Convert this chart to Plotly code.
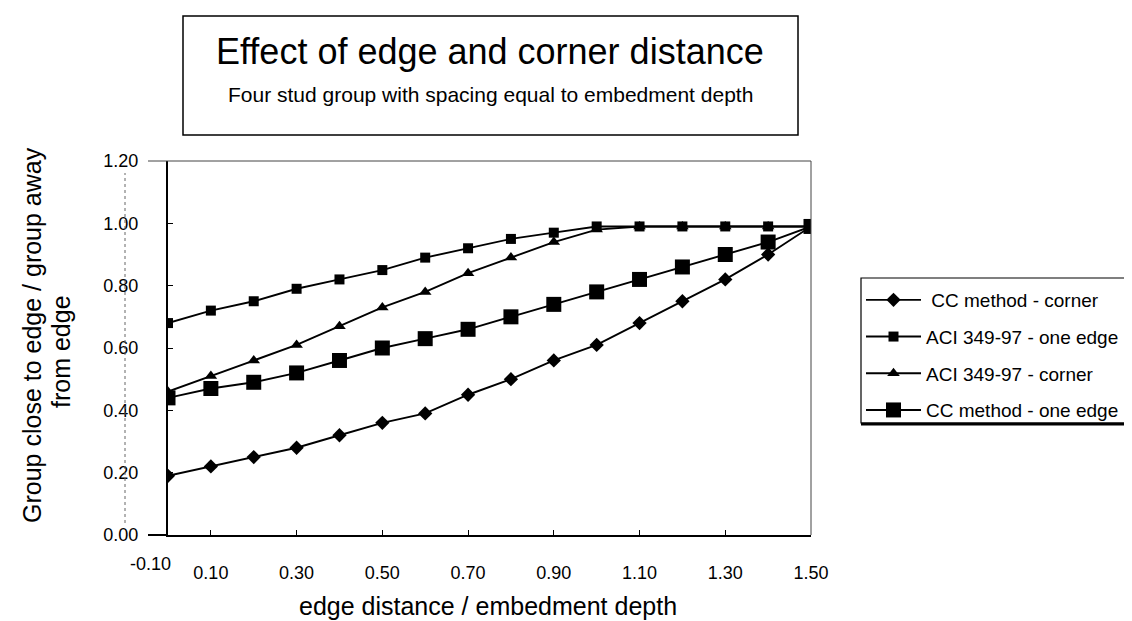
import plotly.graph_objects as go

# ---- data ----
x_vals = [0.0, 0.1, 0.2, 0.3, 0.4, 0.5, 0.6, 0.7, 0.8, 0.9, 1.0, 1.1, 1.2, 1.3, 1.4, 1.5]
cc_corner = [0.19, 0.22, 0.25, 0.28, 0.32, 0.36, 0.39, 0.45, 0.50, 0.56, 0.61, 0.68, 0.75, 0.82, 0.90, 0.99]
aci_one_edge = [0.68, 0.72, 0.75, 0.79, 0.82, 0.85, 0.89, 0.92, 0.95, 0.97, 0.99, 0.99, 0.99, 0.99, 0.99, 0.99]
aci_corner = [0.46, 0.51, 0.56, 0.61, 0.67, 0.73, 0.78, 0.84, 0.89, 0.94, 0.98, 0.99, 0.99, 0.99, 0.99, 0.99]
cc_one_edge = [0.44, 0.47, 0.49, 0.52, 0.56, 0.60, 0.63, 0.66, 0.70, 0.74, 0.78, 0.82, 0.86, 0.90, 0.94, 0.99]

x_tick_vals = [0.1, 0.3, 0.5, 0.7, 0.9, 1.1, 1.3, 1.5]
x_tick_text = ["0.10", "0.30", "0.50", "0.70", "0.90", "1.10", "1.30", "1.50"]
y_tick_vals = [0.0, 0.2, 0.4, 0.6, 0.8, 1.0, 1.2]
y_tick_text = ["0.00", "0.20", "0.40", "0.60", "0.80", "1.00", "1.20"]

series_names = [" CC method - corner", "ACI 349-97 - one edge", "ACI 349-97 - corner", "CC method - one edge"]

title_text = "Effect of edge and corner distance"
subtitle_text = "Four stud group with spacing equal to embedment depth"
x_title = "edge distance / embedment depth"
y_title_line1 = "Group close to edge / group away"
y_title_line2 = "from edge"
x_extra_label = "-0.10"

FONT = "Liberation Sans, Arial, Helvetica, sans-serif"

# ---- layout geometry (pixels) ----
W, H = 1132, 621
L, R, T, B = 160, 803, 153, 527


def px(xp):
    return (xp - L) / (R - L)


def py(yp):
    return (B - yp) / (B - T)


fig = go.Figure()

styles = [
    dict(symbol="diamond", size=11),
    dict(symbol="square", size=10),
    dict(symbol="triangle-up", size=11),
    dict(symbol="square", size=15),
]
series = [cc_corner, aci_one_edge, aci_corner, cc_one_edge]
for i, (name, ys, st) in enumerate(zip(series_names, series, styles)):
    fig.add_trace(go.Scatter(
        x=x_vals, y=ys, name=name, mode="lines+markers",
        line=dict(color="black", width=1.9),
        marker=dict(color="black", symbol=st["symbol"], size=st["size"], line=dict(width=0)),
        legendgroup=f"g{i}",
    ))

shapes = []
# title box
shapes.append(dict(type="rect", xref="paper", yref="paper",
                   x0=px(175), x1=px(790), y0=py(127), y1=py(8),
                   line=dict(color="black", width=1.5)))
# plot top and right border (thin)
shapes.append(dict(type="line", xref="paper", yref="paper", x0=px(140), x1=1, y0=1, y1=1,
                   line=dict(color="#444", width=1)))
shapes.append(dict(type="line", xref="paper", yref="paper", x0=1, x1=1, y0=0, y1=1,
                   line=dict(color="#444", width=1)))
# x axis extension to left
shapes.append(dict(type="line", xref="paper", yref="paper", x0=px(140), x1=0, y0=0, y1=0,
                   line=dict(color="black", width=2)))
# faint vertical dotted line between y tick labels (as in the scanned original)
shapes.append(dict(type="line", xref="paper", yref="paper", x0=px(117), x1=px(117), y0=py(515), y1=py(165),
                   line=dict(color="#666", width=1, dash="dot")))
# legend box
shapes.append(dict(type="rect", xref="paper", yref="paper",
                   x0=px(853), x1=px(1140), y0=py(415), y1=py(270),
                   line=dict(color="black", width=1.2)))
shapes.append(dict(type="line", xref="paper", yref="paper",
                   x0=px(853), x1=px(1140), y0=py(416), y1=py(416),
                   line=dict(color="black", width=3)))

annotations = [
    dict(text=title_text, xref="paper", yref="paper", x=px(482), y=py(44),
         showarrow=False, font=dict(family=FONT, size=36, color="black"),
         xanchor="center", yanchor="middle"),
    dict(text=subtitle_text, xref="paper", yref="paper", x=px(482), y=py(87),
         showarrow=False, font=dict(family=FONT, size=21, color="black"),
         xanchor="center", yanchor="middle"),
    dict(text=y_title_line1, xref="paper", yref="paper", x=px(24), y=py(327),
         showarrow=False, textangle=-90, font=dict(family=FONT, size=25, color="black"),
         xanchor="center", yanchor="middle"),
    dict(text=y_title_line2, xref="paper", yref="paper", x=px(53), y=py(343),
         showarrow=False, textangle=-90, font=dict(family=FONT, size=25, color="black"),
         xanchor="center", yanchor="middle"),
    dict(text=x_title, xref="paper", yref="paper", x=px(480), y=py(598),
         showarrow=False, font=dict(family=FONT, size=25, color="black"),
         xanchor="center", yanchor="middle"),
    dict(text=x_extra_label, xref="paper", yref="paper", x=px(142), y=py(556),
         showarrow=False, font=dict(family=FONT, size=18, color="black"),
         xanchor="center", yanchor="middle"),
]

fig.update_layout(
    width=W, height=H,
    margin=dict(l=L, r=W - R, t=T, b=H - B, autoexpand=False),
    paper_bgcolor="white", plot_bgcolor="white",
    font=dict(family=FONT, size=18, color="black"),
    showlegend=True,
    legend=dict(x=px(853), y=py(273), xanchor="left", yanchor="top",
                bgcolor="rgba(0,0,0,0)", borderwidth=0,
                font=dict(family=FONT, size=19, color="black"),
                tracegroupgap=9, itemwidth=55),
    shapes=shapes,
    annotations=annotations,
)
fig.update_xaxes(range=[0, 1.5], tickvals=x_tick_vals, ticktext=x_tick_text,
                 showgrid=False, zeroline=False, showline=True, linecolor="black", linewidth=2,
                 ticks="inside", ticklen=5, tickcolor="black", ticklabelstandoff=20,
                 tickfont=dict(family=FONT, size=18, color="black"))
fig.update_yaxes(range=[0, 1.2], tickvals=y_tick_vals, ticktext=y_tick_text,
                 showgrid=False, zeroline=False, showline=True, linecolor="black", linewidth=2,
                 ticks="inside", ticklen=5, tickcolor="black", ticklabelstandoff=24,
                 tickfont=dict(family=FONT, size=18, color="black"))

fig.write_html("out.html")
